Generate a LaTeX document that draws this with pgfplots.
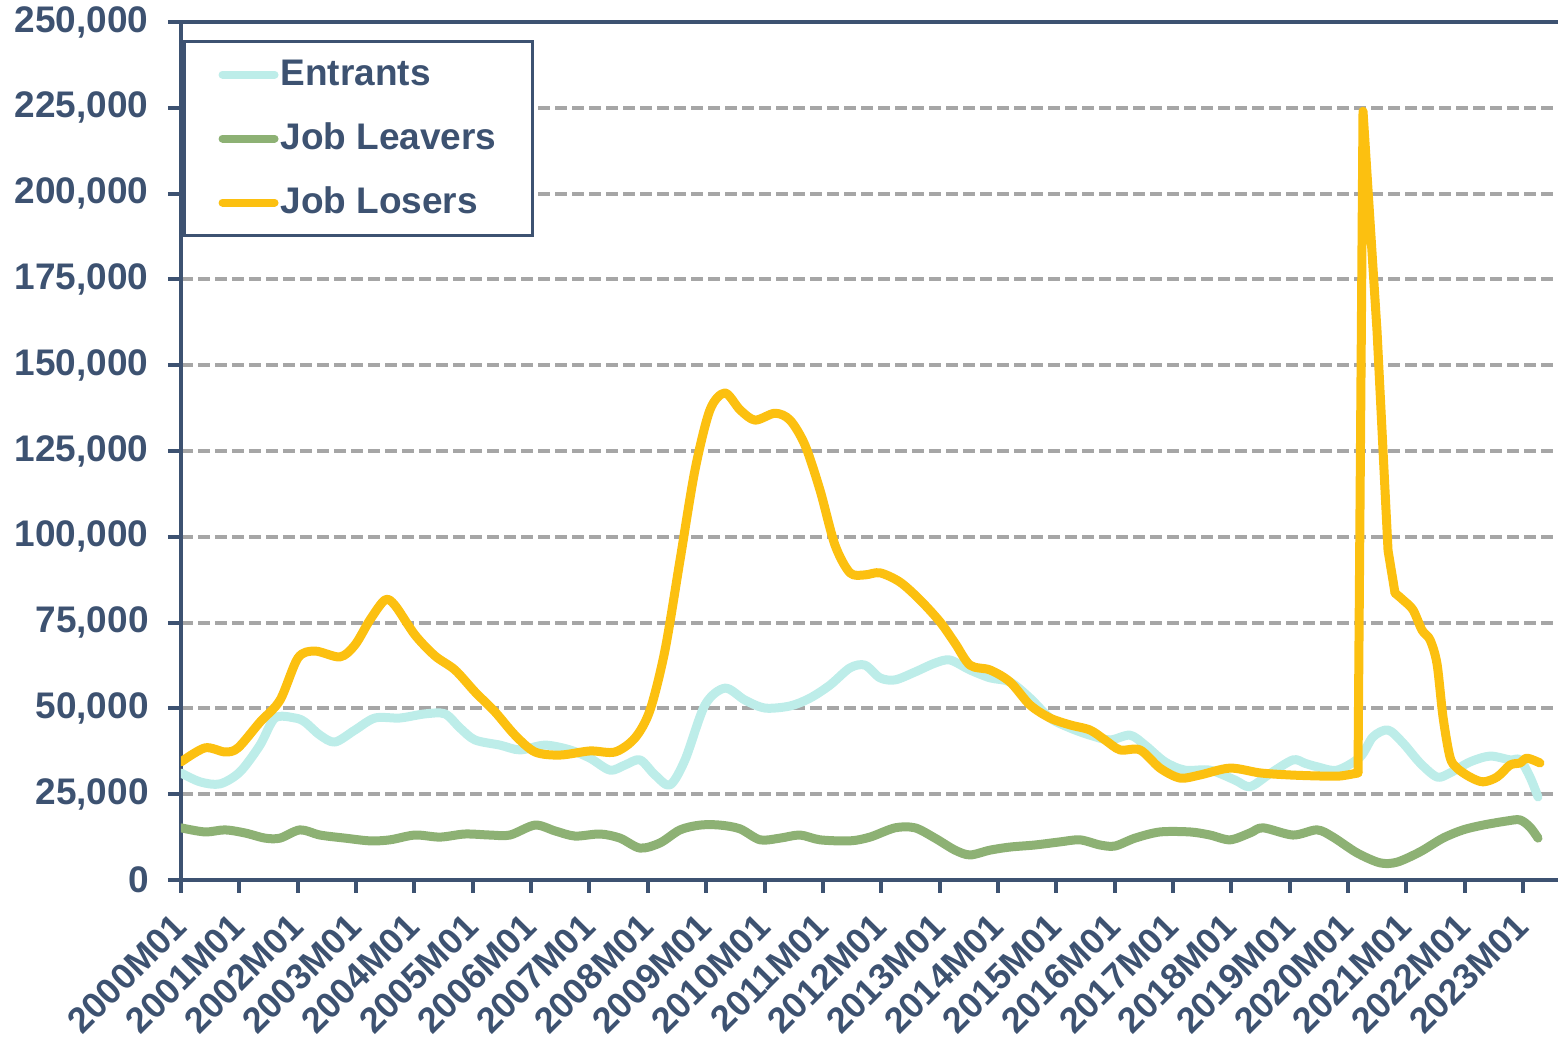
\documentclass[border=0pt]{standalone}
\usepackage{fontspec}
\setmainfont{Liberation Sans}
\usepackage{pgfplots}
\pgfplotsset{compat=1.18}
\definecolor{txt}{HTML}{3D5271}
\definecolor{entr}{HTML}{BDEDE9}
\definecolor{leav}{HTML}{8DB174}
\definecolor{lose}{HTML}{FCC010}
\definecolor{gridc}{HTML}{A6A6A6}
\begin{document}
\begin{tikzpicture}
\begin{axis}[name=ax, scale only axis, width=689.5pt, height=429pt,
  xmin=0, xmax=23.633, ymin=0, ymax=250,
  /pgf/number format/assume math mode=true,
  axis line style={txt, line width=2pt},
  tick style={txt, line width=2pt},
  tick align=outside, major tick length=6.5pt,
  xtick pos=bottom, ytick pos=left,
  xtick={0,...,23},
  xticklabels={2000M01,2001M01,2002M01,2003M01,2004M01,2005M01,2006M01,2007M01,2008M01,2009M01,2010M01,2011M01,2012M01,2013M01,2014M01,2015M01,2016M01,2017M01,2018M01,2019M01,2020M01,2021M01,2022M01,2023M01},
  ytick={0,25,...,250},
  yticklabels={0,{25,000},{50,000},{75,000},{100,000},{125,000},{150,000},{175,000},{200,000},{225,000},{250,000}},
  ticklabel style={font=\bfseries\fontsize{18.5}{22}\selectfont, text=txt},
  xticklabel style={shift={(-5pt,-7.5pt)}, rotate=45, anchor=north east, inner sep=1pt, font=\bfseries\fontsize{18}{21}\selectfont},
  yticklabel style={inner sep=2pt, xshift=-7.5pt},
  ymajorgrids, grid style={gridc, line width=2pt, dash pattern=on 6pt off 2.5pt},
  every axis plot/.append style={line width=4.5pt, line join=round, line cap=round},
  legend style={at={(0.0015,0.979)}, anchor=north west, draw=txt, line width=1.5pt, fill=white,
    font=\bfseries\fontsize{18.5}{22}\selectfont, text=txt, inner xsep=17pt, inner ysep=8pt, row sep=15pt,
    nodes={inner sep=1pt, text height=13pt, text depth=2pt}},
  legend cell align=left,
  legend image code/.code={\draw[#1, line width=4pt, line cap=round] (0pt,0pt) -- (26pt,0pt);},
]
\addplot[entr, smooth, tension=0.5] coordinates {
(0.000,31.2) (0.326,28.6) (0.668,28) (1.011,31.5) (1.354,39.3) (1.611,47.2) (1.954,47.2) (2.125,46) (2.382,42.2) (2.639,40.2) (2.982,43.7) (3.325,47.2) (3.753,47.2) (4.182,48.4) (4.524,48.4) (4.781,44.3) (5.039,40.8) (5.467,39.3) (5.810,37.9) (6.238,39.3) (6.667,37.9) (7.009,35.5) (7.352,32) (7.609,33.5) (7.866,35) (8.123,30.6) (8.380,27.7) (8.638,35) (8.980,51) (9.323,55.9) (9.666,52.4) (10.009,50.1) (10.437,50.7) (10.780,53) (11.123,56.8) (11.465,61.8) (11.722,62.6) (11.979,58.9) (12.237,58.3) (12.579,60.6) (12.922,63.2) (13.179,64.1) (13.522,61.2) (13.865,58.9) (14.208,57.7) (14.550,53) (14.893,47.2) (15.236,44.3) (15.578,42.2) (15.921,40.8) (16.264,42.2) (16.521,39.3) (16.864,34.4) (17.207,32) (17.635,32) (18.064,29.1) (18.321,27.2) (18.663,31) (19.057,35) (19.263,34) (19.469,33) (19.812,32) (20.206,35.8) (20.428,41.7) (20.686,43.7) (20.943,39.9) (21.234,34.1) (21.525,30) (21.748,31.2) (22.091,34.4) (22.434,36.1) (22.777,35) (22.948,35) (23.119,30) (23.256,24.2)
};
\addlegendentry{Entrants}
\addplot[leav, smooth, tension=0.5] coordinates {
(0.000,15.2) (0.411,14) (0.754,14.6) (1.097,13.7) (1.440,12.2) (1.697,12.2) (2.039,14.6) (2.382,13.1) (2.811,12.2) (3.239,11.4) (3.582,11.7) (4.010,13.1) (4.439,12.5) (4.867,13.4) (5.296,13.1) (5.638,13.1) (6.067,16) (6.410,14.3) (6.752,12.8) (7.181,13.4) (7.524,12.2) (7.866,9.3) (8.209,10.8) (8.552,14.6) (8.895,16) (9.237,16) (9.580,14.9) (9.923,11.7) (10.266,12.2) (10.608,13.1) (10.951,11.7) (11.465,11.4) (11.808,12.5) (12.237,15.2) (12.579,15.2) (12.922,12.2) (13.265,8.7) (13.522,7.3) (13.865,8.7) (14.208,9.6) (14.636,10.2) (15.064,11.1) (15.407,11.7) (15.750,10.2) (16.007,9.9) (16.350,12.2) (16.778,14) (17.292,14) (17.635,13.1) (17.978,11.7) (18.321,13.7) (18.543,15.2) (19.057,13.1) (19.469,14.6) (19.743,12.5) (20.154,7.9) (20.548,5) (20.840,5.2) (21.234,8.2) (21.628,12.2) (21.971,14.6) (22.314,16) (22.725,17.2) (22.948,17.5) (23.119,15.4) (23.256,12.2)
};
\addlegendentry{Job Leavers}
\addplot[lose, smooth, tension=0.5] coordinates {
(0.000,34.4) (0.411,38.5) (0.754,37.3) (0.977,38.5) (1.354,46) (1.697,52.4) (2.005,64.7) (2.296,66.7) (2.725,65) (2.982,68.5) (3.239,75.8) (3.496,81.6) (3.668,80) (4.010,71.4) (4.353,65.3) (4.696,61.2) (5.039,54.8) (5.381,49) (5.724,42.2) (6.067,37.3) (6.495,36.4) (7.009,37.6) (7.438,37.3) (7.781,41.4) (8.038,49.5) (8.295,67) (8.552,93.2) (8.809,119.5) (9.066,137) (9.323,141.9) (9.580,137) (9.837,134) (10.180,136) (10.437,134) (10.694,126.7) (10.951,113.6) (11.208,97.6) (11.465,89.5) (11.722,88.9) (11.979,89.5) (12.322,86.8) (12.665,81.6) (13.008,75.2) (13.265,69) (13.522,62.6) (13.865,61.2) (14.208,57.7) (14.550,51) (14.893,47.2) (15.236,45.2) (15.578,43.7) (15.835,40.8) (16.093,37.9) (16.435,37.9) (16.778,32.6) (17.121,29.7) (17.464,30.6) (17.978,32.6) (18.492,31.2) (19.006,30.6) (19.520,30.3) (19.863,30.3) (20.171,31.2)
};
\addlegendentry{Job Losers}
\addplot[lose, forget plot] coordinates {
(20.171,31.2) (20.257,224) (20.497,160) (20.686,96) (20.806,83.6)
};
\addplot[lose, smooth, tension=0.5, forget plot] coordinates {
(20.806,83.6) (20.943,81.6) (21.114,78.7) (21.268,72.8) (21.405,70) (21.525,63) (21.628,47.5) (21.748,35.8) (21.868,32.6) (22.091,30) (22.314,28.6) (22.554,30) (22.777,33.5) (22.948,34.1) (23.068,35.5) (23.290,34.1)
};
\end{axis}
\pgfresetboundingbox
\path ([shift={(-90.5pt,-78.5pt)}]ax.south west) rectangle ([shift={(688.5pt,440pt)}]ax.south west);
\end{tikzpicture}
\end{document}
